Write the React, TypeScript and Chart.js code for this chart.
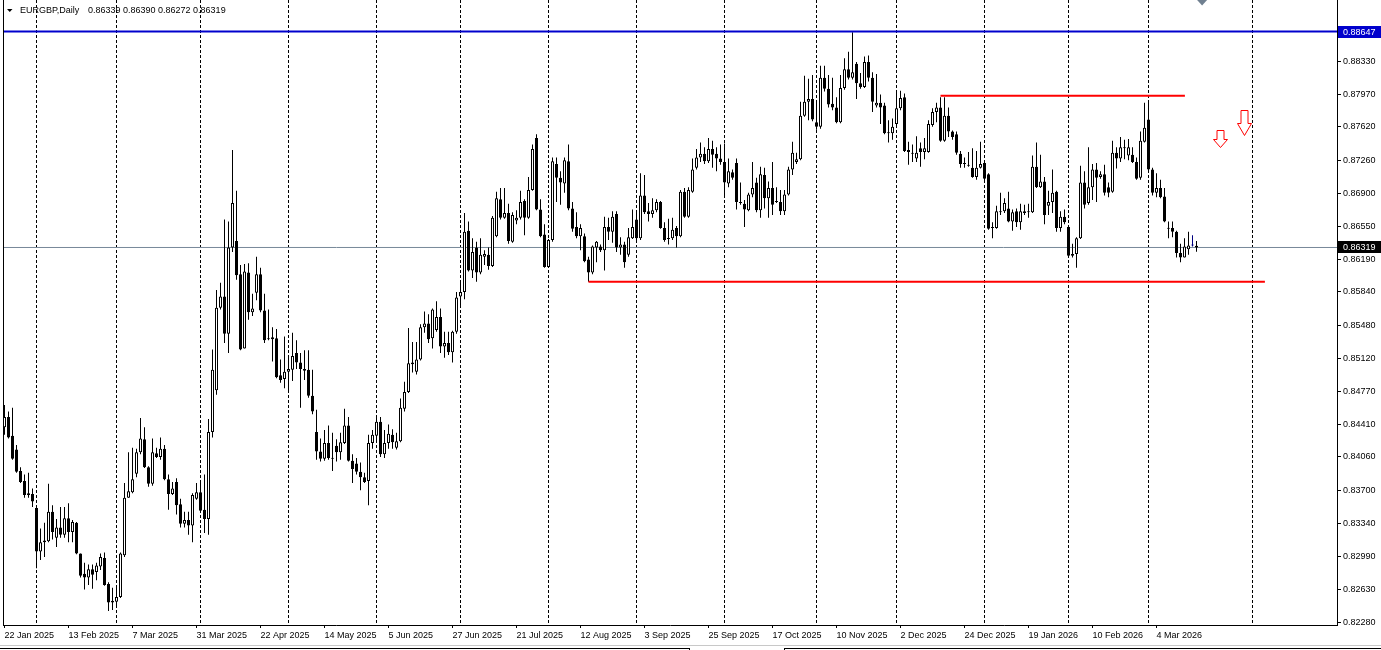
import React, { useEffect, useRef } from 'react';
import { Chart, registerables } from 'chart.js';

Chart.register(...registerables);

// ---- Data (EURGBP, Daily) ----
const opens = [
  0.8438,0.8449,0.8429,0.8414,0.8391,0.8380,0.8367,0.8366,0.8351,0.8304,
  0.8314,0.8315,0.8347,0.8319,0.8330,0.8322,0.8340,0.8325,0.8335,0.8302,
  0.8280,0.8276,0.8285,0.8282,0.8288,0.8297,0.8269,0.8251,0.8250,0.8255,
  0.8300,0.8362,0.8368,0.8388,0.8411,0.8425,0.8395,0.8377,0.8410,0.8406,
  0.8415,0.8382,0.8366,0.8379,0.8355,0.8334,0.8338,0.8332,0.8361,0.8368,
  0.8349,0.8339,0.8433,0.8478,0.8567,0.8579,0.8539,0.8632,0.8639,0.8603,
  0.8523,0.8605,0.8562,0.8583,0.8603,0.8564,0.8534,0.8535,0.8534,0.8494,
  0.8490,0.8498,0.8500,0.8518,0.8508,0.8501,0.8500,0.8472,0.8433,0.8412,
  0.8404,0.8421,0.8405,0.8418,0.8411,0.8421,0.8440,0.8402,0.8399,0.8390,
  0.8384,0.8380,0.8421,0.8429,0.8444,0.8409,0.8421,0.8430,0.8416,0.8423,
  0.8458,0.8476,0.8506,0.8498,0.8511,0.8546,0.8550,0.8534,0.8543,0.8557,
  0.8525,0.8529,0.8519,0.8541,0.8579,0.8584,0.8650,0.8607,0.8632,0.8605,
  0.8622,0.8624,0.8612,0.8644,0.8684,0.8664,0.8669,0.8638,0.8661,0.8664,
  0.8682,0.8664,0.8694,0.8750,0.8673,0.8646,0.8611,0.8640,0.8722,0.8707,
  0.8701,0.8725,0.8674,0.8654,0.8644,0.8644,0.8619,0.8605,0.8632,0.8633,
  0.8629,0.8654,0.8649,0.8668,0.8632,0.8635,0.8624,0.8642,0.8662,0.8642,
  0.8688,0.8671,0.8668,0.8672,0.8681,0.8653,0.8641,0.8642,0.8653,0.8644,
  0.8692,0.8665,0.8692,0.8718,0.8729,0.8733,0.8725,0.8738,0.8733,0.8728,
  0.8724,0.8701,0.8713,0.8723,0.8681,0.8679,0.8672,0.8689,0.8702,0.8672,
  0.8710,0.8685,0.8696,0.8682,0.8681,0.8671,0.8689,0.8716,0.8724,0.8727,
  0.8774,0.8789,0.8792,0.8767,0.8762,0.8815,0.8803,0.8787,0.8783,0.8767,
  0.8804,0.8824,0.8815,0.8830,0.8809,0.8805,0.8832,0.8815,0.8785,0.8788,
  0.8785,0.8756,0.8755,0.8765,0.8782,0.8794,0.8737,0.8734,0.8728,0.8739,
  0.8735,0.8735,0.8764,0.8778,0.8783,0.8747,0.8774,0.8757,0.8754,0.8733,
  0.8723,0.8721,0.8718,0.8708,0.8718,0.8723,0.8711,0.8654,0.8653,0.8671,
  0.8671,0.8674,0.8660,0.8671,0.8659,0.8671,0.8671,0.8670,0.8719,0.8697,
  0.8703,0.8677,0.8681,0.8692,0.8653,0.8665,0.8654,0.8625,0.8625,0.8642,
  0.8702,0.8680,0.8697,0.8716,0.8708,0.8711,0.8697,0.8692,0.8734,0.8728,
  0.8740,0.8731,0.8732,0.8724,0.8707,0.8746,0.8770,0.8716,0.8691,0.8696,
  0.8687,0.8653,0.8653,0.8649,0.8626,0.8621,0.8630,0.8634,0.86339,
];

const highs = [
  0.8462,0.8455,0.8459,0.8419,0.8395,0.8387,0.8389,0.8372,0.8352,0.8329,
  0.8335,0.8377,0.8354,0.8339,0.8352,0.8352,0.8356,0.8338,0.8336,0.8302,
  0.8292,0.8290,0.8290,0.8292,0.8302,0.8303,0.8271,0.8265,0.8265,0.8303,
  0.8378,0.8411,0.8416,0.8415,0.8448,0.8438,0.8396,0.8426,0.8416,0.8427,
  0.8419,0.8387,0.8379,0.8383,0.8361,0.8347,0.8347,0.8367,0.8378,0.8378,
  0.8387,0.8447,0.8522,0.8586,0.8594,0.8662,0.8660,0.8737,0.8693,0.8613,
  0.8614,0.8615,0.8582,0.8622,0.8610,0.8582,0.8565,0.8546,0.8544,0.8511,
  0.8536,0.8514,0.8540,0.8532,0.8518,0.8521,0.8521,0.8500,0.8457,0.8426,
  0.8435,0.8440,0.8432,0.8425,0.8432,0.8458,0.8449,0.8409,0.8405,0.8400,
  0.8389,0.8430,0.8435,0.8451,0.8449,0.8435,0.8441,0.8436,0.8432,0.8469,
  0.8487,0.8545,0.8530,0.8530,0.8549,0.8563,0.8560,0.8566,0.8574,0.8566,
  0.8541,0.8541,0.8542,0.8584,0.8596,0.8669,0.8660,0.8642,0.8638,0.8642,
  0.8629,0.8632,0.8666,0.8692,0.8696,0.8696,0.8679,0.8670,0.8672,0.8693,
  0.8684,0.8708,0.8743,0.8754,0.8684,0.8657,0.8641,0.8729,0.8729,0.8714,
  0.8729,0.8743,0.8681,0.8670,0.8657,0.8647,0.8622,0.8634,0.8639,0.8635,
  0.8665,0.8664,0.8671,0.8671,0.8643,0.8638,0.8653,0.8673,0.8670,0.8712,
  0.8710,0.8680,0.8685,0.8684,0.8682,0.8659,0.8663,0.8664,0.8655,0.8694,
  0.8696,0.8697,0.8728,0.8738,0.8745,0.8740,0.8750,0.8747,0.8740,0.8743,
  0.8744,0.8728,0.8716,0.8728,0.8702,0.8683,0.8691,0.8724,0.8707,0.8719,
  0.8718,0.8703,0.8724,0.8697,0.8694,0.8694,0.8719,0.8746,0.8734,0.8789,
  0.8817,0.8814,0.8818,0.8791,0.8828,0.8828,0.8818,0.8815,0.8794,0.8818,
  0.8836,0.8843,0.8864,0.8832,0.8820,0.8838,0.8839,0.8821,0.8819,0.8797,
  0.8788,0.8769,0.8771,0.8800,0.8801,0.8798,0.8746,0.8743,0.8752,0.8745,
  0.8750,0.8769,0.8782,0.8788,0.8794,0.8794,0.8783,0.8758,0.8757,0.8736,
  0.8729,0.8735,0.8739,0.8736,0.8746,0.8724,0.8712,0.8659,0.8677,0.8691,
  0.8685,0.8692,0.8673,0.8674,0.8679,0.8678,0.8679,0.8731,0.8745,0.8732,
  0.8708,0.8693,0.8716,0.8693,0.8671,0.8673,0.8655,0.8636,0.8643,0.8720,
  0.8714,0.8740,0.8722,0.8723,0.8714,0.8721,0.8702,0.8747,0.8740,0.8751,
  0.8748,0.8749,0.8740,0.8729,0.8757,0.8788,0.8788,0.8718,0.8712,0.8705,
  0.8696,0.8660,0.8660,0.8650,0.8636,0.8642,0.8649,0.8645,0.86390,
];

const lows = [
  0.8430,0.8426,0.8403,0.8389,0.8378,0.8362,0.8362,0.8352,0.8286,0.8295,
  0.8298,0.8314,0.8317,0.8309,0.8319,0.8319,0.8314,0.8314,0.8301,0.8276,
  0.8263,0.8268,0.8264,0.8273,0.8284,0.8267,0.8240,0.8241,0.8244,0.8254,
  0.8298,0.8362,0.8367,0.8384,0.8409,0.8394,0.8374,0.8375,0.8405,0.8403,
  0.8381,0.8349,0.8365,0.8344,0.8330,0.8330,0.8322,0.8314,0.8360,0.8346,
  0.8324,0.8322,0.8427,0.8473,0.8565,0.8529,0.8518,0.8627,0.8597,0.8521,
  0.8523,0.8554,0.8558,0.8575,0.8562,0.8529,0.8532,0.8509,0.8491,0.8486,
  0.8480,0.8475,0.8488,0.8501,0.8459,0.8489,0.8470,0.8452,0.8403,0.8401,
  0.8402,0.8403,0.8391,0.8401,0.8403,0.8420,0.8401,0.8378,0.8387,0.8370,
  0.8378,0.8354,0.8415,0.8422,0.8406,0.8405,0.8415,0.8415,0.8414,0.8422,
  0.8455,0.8475,0.8497,0.8495,0.8510,0.8540,0.8529,0.8523,0.8541,0.8518,
  0.8513,0.8516,0.8508,0.8539,0.8570,0.8576,0.8606,0.8599,0.8595,0.8603,
  0.8613,0.8608,0.8611,0.8643,0.8662,0.8663,0.8636,0.8637,0.8657,0.8662,
  0.8645,0.8663,0.8693,0.8672,0.8643,0.8610,0.8610,0.8638,0.8681,0.8678,
  0.8691,0.8672,0.8649,0.8642,0.8629,0.8616,0.8595,0.8603,0.8616,0.8627,
  0.8607,0.8640,0.8637,0.8627,0.8624,0.8610,0.8622,0.8641,0.8638,0.8640,
  0.8668,0.8660,0.8664,0.8670,0.8652,0.8638,0.8635,0.8640,0.8632,0.8643,
  0.8664,0.8664,0.8691,0.8716,0.8724,0.8722,0.8723,0.8718,0.8714,0.8721,
  0.8688,0.8697,0.8705,0.8673,0.8678,0.8654,0.8671,0.8686,0.8670,0.8664,
  0.8674,0.8664,0.8667,0.8680,0.8667,0.8667,0.8688,0.8710,0.8722,0.8726,
  0.8773,0.8769,0.8768,0.8759,0.8760,0.8800,0.8783,0.8780,0.8766,0.8766,
  0.8802,0.8813,0.8813,0.8792,0.8803,0.8804,0.8811,0.8778,0.8783,0.8765,
  0.8754,0.8745,0.8748,0.8764,0.8780,0.8735,0.8721,0.8724,0.8724,0.8719,
  0.8727,0.8734,0.8762,0.8767,0.8746,0.8746,0.8751,0.8748,0.8732,0.8718,
  0.8718,0.8719,0.8707,0.8705,0.8717,0.8703,0.8651,0.8642,0.8652,0.8667,
  0.8669,0.8659,0.8650,0.8654,0.8651,0.8667,0.8664,0.8669,0.8696,0.8696,
  0.8657,0.8667,0.8669,0.8649,0.8649,0.8657,0.8622,0.8621,0.8610,0.8641,
  0.8674,0.8678,0.8683,0.8681,0.8706,0.8688,0.8686,0.8691,0.8717,0.8724,
  0.8727,0.8726,0.8723,0.8705,0.8705,0.8745,0.8714,0.8688,0.8686,0.8685,
  0.8659,0.8642,0.8643,0.8621,0.8616,0.8621,0.8624,0.8633,0.86272,
];

const closes = [
  0.8449,0.8427,0.8404,0.8390,0.8379,0.8365,0.8365,0.8358,0.8304,0.8314,
  0.8316,0.8347,0.8325,0.8330,0.8322,0.8340,0.8325,0.8336,0.8302,0.8278,
  0.8276,0.8285,0.8279,0.8289,0.8298,0.8268,0.8249,0.8249,0.8255,0.8302,
  0.8362,0.8369,0.8382,0.8411,0.8426,0.8395,0.8377,0.8411,0.8406,0.8415,
  0.8382,0.8366,0.8372,0.8354,0.8334,0.8338,0.8332,0.8365,0.8368,0.8348,
  0.8339,0.8433,0.8500,0.8567,0.8579,0.8539,0.8632,0.8680,0.8602,0.8522,
  0.8606,0.8562,0.8566,0.8603,0.8564,0.8532,0.8533,0.8533,0.8492,0.8489,
  0.8498,0.8501,0.8515,0.8508,0.8501,0.8499,0.8472,0.8455,0.8412,0.8404,
  0.8421,0.8405,0.8404,0.8411,0.8422,0.8440,0.8402,0.8393,0.8390,0.8384,
  0.8379,0.8421,0.8430,0.8444,0.8409,0.8421,0.8431,0.8422,0.8423,0.8459,
  0.8476,0.8507,0.8508,0.8511,0.8546,0.8550,0.8533,0.8565,0.8557,0.8525,
  0.8529,0.8519,0.8541,0.8578,0.8584,0.8649,0.8607,0.8627,0.8605,0.8624,
  0.8625,0.8612,0.8664,0.8685,0.8664,0.8669,0.8639,0.8667,0.8664,0.8681,
  0.8664,0.8694,0.8738,0.8673,0.8644,0.8611,0.8640,0.8725,0.8707,0.8702,
  0.8726,0.8674,0.8652,0.8644,0.8653,0.8617,0.8605,0.8633,0.8638,0.8629,
  0.8654,0.8649,0.8665,0.8632,0.8635,0.8616,0.8643,0.8654,0.8642,0.8688,
  0.8670,0.8668,0.8672,0.8681,0.8653,0.8640,0.8642,0.8651,0.8644,0.8692,
  0.8665,0.8694,0.8716,0.8729,0.8733,0.8725,0.8738,0.8732,0.8728,0.8724,
  0.8702,0.8714,0.8707,0.8681,0.8680,0.8673,0.8689,0.8696,0.8672,0.8711,
  0.8685,0.8696,0.8678,0.8681,0.8671,0.8689,0.8716,0.8734,0.8727,0.8774,
  0.8789,0.8792,0.8770,0.8762,0.8815,0.8803,0.8786,0.8783,0.8767,0.8804,
  0.8824,0.8815,0.8821,0.8809,0.8805,0.8832,0.8815,0.8789,0.8788,0.8783,
  0.8755,0.8755,0.8762,0.8782,0.8793,0.8736,0.8735,0.8733,0.8734,0.8735,
  0.8739,0.8765,0.8778,0.8783,0.8747,0.8774,0.8757,0.8751,0.8734,0.8722,
  0.8722,0.8720,0.8708,0.8718,0.8722,0.8706,0.8652,0.8653,0.8671,0.8670,
  0.8680,0.8660,0.8670,0.8659,0.8671,0.8669,0.8670,0.8719,0.8697,0.8703,
  0.8667,0.8681,0.8691,0.8653,0.8665,0.8659,0.8623,0.8623,0.8642,0.8702,
  0.8678,0.8697,0.8716,0.8707,0.8711,0.8691,0.8691,0.8734,0.8728,0.8740,
  0.8739,0.8740,0.8724,0.8706,0.8747,0.8761,0.8716,0.8691,0.8696,0.8686,
  0.8660,0.8652,0.8649,0.8626,0.8621,0.8633,0.8634,0.8634,0.86319,
];

// bar index of each date label on the time axis
const xTickIndex = [0,16,32,48,64,80,96,112,128,144,160,176,192,208,224,240,256,272,288];
const xTickLabels = [
  '22 Jan 2025','13 Feb 2025','7 Mar 2025','31 Mar 2025','22 Apr 2025','14 May 2025',
  '5 Jun 2025','27 Jun 2025','21 Jul 2025','12 Aug 2025','3 Sep 2025','25 Sep 2025',
  '17 Oct 2025','10 Nov 2025','2 Dec 2025','24 Dec 2025','19 Jan 2026','10 Feb 2026','4 Mar 2026',
];
// bar index of each month-start separator
const monthStartIndex = [8,28,49,71,93,114,136,158,180,203,223,245,266,286,312];
// price scale labels
const yTickValues = [0.8833,0.8797,0.8762,0.8726,0.8690,0.8655,0.8619,0.8584,0.8548,0.8512,0.8477,0.8441,0.8406,0.8370,0.8334,0.8299,0.8263,0.8228];

const symbolName = 'EURGBP,Daily';
const lastBar = [0.86339, 0.86390, 0.86272, 0.86319];
const highLevelPrice = 0.88647;
const bidPrice = 0.86319;
const resistanceX = [234, 295.1];
const resistancePrice = 0.87955;
const supportX = [146, 315.1];
const supportPrice = 0.8595;
const arrowIndex = [303.75, 309.75];
const arrowTopPrice = [0.87586, 0.87802];
const arrowTipPrice = [0.87403, 0.87532];
const shiftMarkerIndex = 299.4;

const X_MIN = -0.375;
const X_MAX = 333.125;
const Y_MIN = 0.82248;
const Y_MAX = 0.88988;
const FONT_FAMILY = '"Liberation Sans", Arial, sans-serif';

export default function App() {
  const ref = useRef<HTMLCanvasElement>(null);

  useEffect(() => {
    document.body.style.margin = '0';
    const canvas = ref.current;
    if (!canvas) return;

    const isDoji = (i: number) => opens[i] === closes[i];
    const bodyFill = (i: number) =>
      isDoji(i) ? '#000080' : closes[i] > opens[i] ? '#ffffff' : '#000000';
    const edge = (i: number) => (isDoji(i) ? '#000080' : '#000000');

    const overlay = {
      id: 'mt4overlay',
      afterDraw(chart: any) {
        const { ctx, chartArea, scales } = chart;
        const xs = scales.x;
        const ys = scales.y;
        const W = chart.width;
        ctx.save();
        // left frame line
        ctx.fillStyle = '#000';
        ctx.fillRect(chartArea.left, 0, 1, chartArea.bottom + 1);

        // red down arrows
        arrowIndex.forEach((ix, k) => {
          const cx = Math.round(xs.getPixelForValue(ix)) + 0.5;
          const y0 = Math.round(ys.getPixelForValue(arrowTopPrice[k])) + 0.5;
          const y1 = Math.round(ys.getPixelForValue(arrowTipPrice[k])) + 0.5;
          const hs = Math.round((y0 + y1) / 2) + 0.5;
          const sh = 3.5;
          const hh = 7;
          ctx.beginPath();
          ctx.moveTo(cx - sh, y0);
          ctx.lineTo(cx + sh, y0);
          ctx.lineTo(cx + sh, hs);
          ctx.lineTo(cx + hh, hs);
          ctx.lineTo(cx, y1);
          ctx.lineTo(cx - hh, hs);
          ctx.lineTo(cx - sh, hs);
          ctx.closePath();
          ctx.fillStyle = '#ffffff';
          ctx.fill();
          ctx.strokeStyle = '#ff0000';
          ctx.lineWidth = 1;
          ctx.stroke();
        });

        // chart shift marker
        const mx = xs.getPixelForValue(shiftMarkerIndex);
        ctx.beginPath();
        ctx.moveTo(mx - 5, 0);
        ctx.lineTo(mx + 5, 0);
        ctx.lineTo(mx, 5.5);
        ctx.closePath();
        ctx.fillStyle = '#708090';
        ctx.fill();

        // price label boxes on the axis
        const priceBox = (price: number, color: string) => {
          const top = Math.round(ys.getPixelForValue(price)) - 6;
          ctx.fillStyle = color;
          ctx.fillRect(chartArea.right + 1, top, W - chartArea.right - 1, 12);
          ctx.fillStyle = '#ffffff';
          ctx.font = `9px ${FONT_FAMILY}`;
          ctx.textBaseline = 'middle';
          ctx.textAlign = 'left';
          ctx.fillText(price.toFixed(5), chartArea.right + 6, top + 6.5);
        };
        priceBox(highLevelPrice, '#0000CD');
        priceBox(bidPrice, '#000000');

        // title
        ctx.fillStyle = '#000';
        ctx.beginPath();
        ctx.moveTo(7, 9);
        ctx.lineTo(12.5, 9);
        ctx.lineTo(9.75, 12);
        ctx.closePath();
        ctx.fill();
        ctx.font = `9px ${FONT_FAMILY}`;
        ctx.textBaseline = 'alphabetic';
        ctx.textAlign = 'left';
        ctx.fillText(symbolName, 20, 13);
        ctx.fillText(lastBar.map((v) => v.toFixed(5)).join(' '), 88, 13);

        // bottom tab strip
        ctx.fillStyle = '#c8c8c8';
        ctx.fillRect(0, 645, W, 1);
        ctx.fillStyle = '#000';
        ctx.fillRect(0, 648, 690, 1);
        ctx.fillRect(689, 648, 1, 2);
        ctx.fillRect(784, 648, W - 784, 1);
        ctx.fillRect(784, 648, 1, 2);
        ctx.restore();
      },
    };

    const idx = closes.map((_, i) => i);

    const chart = new Chart(canvas, {
      type: 'bar',
      data: {
        datasets: [
          {
            type: 'line',
            label: 'resistance',
            data: resistanceX.map((x) => ({ x, y: resistancePrice })),
            borderColor: '#ff0000',
            borderWidth: 2,
            pointRadius: 0,
            order: 0,
          },
          {
            type: 'line',
            label: 'support',
            data: supportX.map((x) => ({ x, y: supportPrice })),
            borderColor: '#ff0000',
            borderWidth: 2,
            pointRadius: 0,
            order: 0,
          },
          {
            type: 'line',
            label: 'high level',
            data: [{ x: X_MIN, y: highLevelPrice }, { x: X_MAX, y: highLevelPrice }],
            borderColor: '#0000CD',
            borderWidth: 2,
            pointRadius: 0,
            order: 1,
          },
          {
            type: 'bar',
            label: 'body',
            data: idx.map((i) => ({ x: i, y: [opens[i], closes[i]] })),
            backgroundColor: idx.map(bodyFill),
            borderColor: idx.map(edge),
            borderWidth: 1,
            borderSkipped: false,
            barThickness: 3,
            minBarLength: 1,
            grouped: false,
            inflateAmount: 0,
            order: 2,
          },
          {
            type: 'bar',
            label: 'wick',
            data: idx.map((i) => ({ x: i, y: [lows[i], highs[i]] })),
            backgroundColor: idx.map(edge),
            borderWidth: 0,
            barThickness: 1,
            grouped: false,
            inflateAmount: 0,
            order: 3,
          },
          {
            type: 'line',
            label: 'bid',
            data: [{ x: X_MIN, y: bidPrice }, { x: X_MAX, y: bidPrice }],
            borderColor: '#778899',
            borderWidth: 1,
            pointRadius: 0,
            order: 4,
          },
        ],
      } as any,
      options: {
        animation: false,
        responsive: false,
        devicePixelRatio: 1,
        events: [],
        layout: { padding: { left: 3, right: 0, top: 0, bottom: 0 }, autoPadding: false },
        plugins: { legend: { display: false }, tooltip: { enabled: false }, title: { display: false } },
        scales: {
          x: {
            type: 'linear',
            position: 'bottom',
            min: X_MIN,
            max: X_MAX,
            offset: false,
            afterBuildTicks: (s: any) => {
              s.ticks = xTickIndex.map((v) => ({ value: v }));
            },
            afterFit: (s: any) => {
              s.height = 25;
              s.paddingLeft = 0;
              s.paddingRight = 0;
            },
            ticks: {
              autoSkip: false,
              maxRotation: 0,
              minRotation: 0,
              align: 'start',
              padding: 2,
              color: '#000',
              font: { family: FONT_FAMILY, size: 9 },
              callback: (_v: any, i: number) => xTickLabels[i] ?? '',
            },
            grid: { offset: false, drawOnChartArea: false, drawTicks: true, tickLength: 3, color: '#000' },
            border: { display: true, color: '#000' },
          },
          xg: {
            type: 'linear',
            position: 'top',
            min: X_MIN,
            max: X_MAX,
            offset: false,
            afterBuildTicks: (s: any) => {
              s.ticks = monthStartIndex.map((v) => ({ value: v }));
            },
            afterFit: (s: any) => {
              s.height = 0;
              s.paddingLeft = 0;
              s.paddingRight = 0;
            },
            ticks: { display: false },
            grid: { offset: false, drawOnChartArea: true, drawTicks: false, color: '#000', lineWidth: 1 },
            border: { display: false, dash: [3, 2] },
          },
          y: {
            type: 'linear',
            position: 'right',
            min: Y_MIN,
            max: Y_MAX,
            afterBuildTicks: (s: any) => {
              s.ticks = yTickValues.map((v) => ({ value: v }));
            },
            afterFit: (s: any) => {
              s.width = 44;
              s.paddingTop = 0;
              s.paddingBottom = 0;
            },
            ticks: {
              padding: 2,
              color: '#000',
              font: { family: FONT_FAMILY, size: 9 },
              callback: (v: any) => Number(v).toFixed(5),
            },
            grid: { drawOnChartArea: false, drawTicks: true, tickLength: 4, color: '#000' },
            border: { display: true, color: '#000' },
          },
        },
      } as any,
      plugins: [overlay],
    });

    return () => chart.destroy();
  }, []);

  return (
    <div style={{ position: 'absolute', left: 0, top: 0, width: 1381, height: 650, background: '#fff' }}>
      <canvas ref={ref} width={1381} height={650} style={{ display: 'block', width: 1381, height: 650 }} />
    </div>
  );
}
